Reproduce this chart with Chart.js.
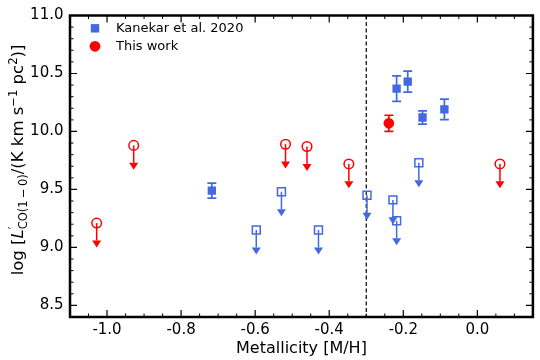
<!DOCTYPE html>
<html>
<head>
<meta charset="utf-8">
<script src="https://cdn.jsdelivr.net/npm/chart.js@4.4.1/dist/chart.umd.min.js"></script>
<style>
  html, body { margin: 0; padding: 0; background: #fff; }
  #wrap { width: 540px; height: 360px; }
</style>
</head>
<body>
<div id="wrap"><canvas id="my-chart" width="540" height="360"></canvas></div>
<script>
// Kanekar et al. 2020 detections
const kanekarX = [-0.717, -0.218, -0.188, -0.148, -0.089];
const kanekarY = [9.49, 10.37, 10.43, 10.12, 10.19];
const kanekarErr = [0.065, 0.11, 0.09, 0.057, 0.088];
// Kanekar et al. 2020 upper limits
const kanekarLimX = [-0.597, -0.529, -0.429, -0.298, -0.228, -0.218, -0.158];
const kanekarLimY = [9.15, 9.48, 9.15, 9.45, 9.41, 9.23, 9.73];
// this work
const thisX = [-0.239];
const thisY = [10.07];
const thisErr = [0.07];
const thisLimX = [-1.028, -0.928, -0.518, -0.46, -0.347, 0.061];
const thisLimY = [9.21, 9.88, 9.89, 9.87, 9.72, 9.72];
const limitLength = 0.15;
const cutoffX = -0.3;

const xTicks = [-1.0, -0.8, -0.6, -0.4, -0.2, 0.0];
const yTicks = [8.5, 9.0, 9.5, 10.0, 10.5, 11.0];
const xMinorStep = 0.05;
const yMinorStep = 0.1;

const seriesNames = ['Kanekar et al. 2020', 'This work'];

const blue = '#4169e1';
const red = '#ff0000';
const fontName = 'DejaVu Sans';

const toPoints = (xs, ys) => xs.map((x, i) => ({ x: x, y: ys[i] }));

const extrasPlugin = {
  id: 'extras',
  beforeDatasetsDraw(chart) {
    const ctx = chart.ctx;
    const xs = chart.scales.x;
    const ys = chart.scales.y;
    const area = chart.chartArea;

    // vertical dashed line
    ctx.save();
    ctx.strokeStyle = '#000';
    ctx.lineWidth = 1.2;
    ctx.setLineDash([4, 2.5]);
    const cx = xs.getPixelForValue(cutoffX);
    ctx.beginPath();
    ctx.moveTo(cx, area.top);
    ctx.lineTo(cx, area.bottom);
    ctx.stroke();
    ctx.restore();

    function errBars(xv, yv, ev, color) {
      ctx.save();
      ctx.strokeStyle = color;
      ctx.lineWidth = 1.7;
      xv.forEach((x, i) => {
        const px = xs.getPixelForValue(x);
        const top = ys.getPixelForValue(yv[i] + ev[i]);
        const bot = ys.getPixelForValue(yv[i] - ev[i]);
        ctx.beginPath();
        ctx.moveTo(px, top); ctx.lineTo(px, bot);
        ctx.moveTo(px - 4.5, top); ctx.lineTo(px + 4.5, top);
        ctx.moveTo(px - 4.5, bot); ctx.lineTo(px + 4.5, bot);
        ctx.stroke();
      });
      ctx.restore();
    }

    function limits(xv, yv, color) {
      ctx.save();
      ctx.strokeStyle = color;
      ctx.fillStyle = color;
      ctx.lineWidth = 1.5;
      xv.forEach((x, i) => {
        const px = xs.getPixelForValue(x);
        const p0 = ys.getPixelForValue(yv[i]);
        const p1 = ys.getPixelForValue(yv[i] - limitLength);
        ctx.beginPath();
        ctx.moveTo(px, p0); ctx.lineTo(px, p1);
        ctx.stroke();
        ctx.beginPath();
        ctx.moveTo(px - 4.5, p1);
        ctx.lineTo(px + 4.5, p1);
        ctx.lineTo(px, p1 + 7);
        ctx.closePath();
        ctx.fill();
      });
      ctx.restore();
    }

    errBars(kanekarX, kanekarY, kanekarErr, blue);
    limits(kanekarLimX, kanekarLimY, blue);
    errBars(thisX, thisY, thisErr, red);
    limits(thisLimX, thisLimY, red);
  },
  afterDraw(chart) {
    const ctx = chart.ctx;
    const xs = chart.scales.x;
    const ys = chart.scales.y;
    const a = chart.chartArea;

    // ticks on all four sides, pointing in
    ctx.save();
    ctx.strokeStyle = '#000';
    function xTick(v, len, w) {
      const p = xs.getPixelForValue(v);
      ctx.lineWidth = w;
      ctx.beginPath();
      ctx.moveTo(p, a.bottom); ctx.lineTo(p, a.bottom - len);
      ctx.moveTo(p, a.top); ctx.lineTo(p, a.top + len);
      ctx.stroke();
    }
    function yTick(v, len, w) {
      const p = ys.getPixelForValue(v);
      ctx.lineWidth = w;
      ctx.beginPath();
      ctx.moveTo(a.left, p); ctx.lineTo(a.left + len, p);
      ctx.moveTo(a.right, p); ctx.lineTo(a.right - len, p);
      ctx.stroke();
    }
    for (let v = -1.1; v <= 0.15 + 1e-9; v += xMinorStep) {
      const r = Math.round(v * 100) / 100;
      if (!xTicks.some(t => Math.abs(t - r) < 1e-6)) xTick(r, 3.5, 1);
    }
    for (let v = 8.4; v <= 11.0 + 1e-9; v += yMinorStep) {
      const r = Math.round(v * 10) / 10;
      if (!yTicks.some(t => Math.abs(t - r) < 1e-6)) yTick(r, 3.5, 1);
    }
    xTicks.forEach(v => xTick(v, 7, 1.2));
    yTicks.forEach(v => yTick(v, 7, 1.2));

    // frame
    ctx.lineWidth = 2.5;
    ctx.strokeRect(a.left, a.top, a.right - a.left, a.bottom - a.top);
    ctx.restore();

    // legend
    ctx.save();
    ctx.font = '13px ' + fontName;
    ctx.textBaseline = 'middle';
    ctx.fillStyle = blue;
    ctx.fillRect(95 - 4.2, 28.3 - 4.2, 8.4, 8.4);
    ctx.fillStyle = red;
    ctx.beginPath();
    ctx.arc(95, 46.3, 5.4, 0, Math.PI * 2);
    ctx.fill();
    ctx.fillStyle = '#000';
    ctx.fillText(seriesNames[0], 116, 28.5);
    ctx.fillText(seriesNames[1], 116, 46.5);
    ctx.restore();

    // x axis title
    ctx.save();
    ctx.font = '16px ' + fontName;
    ctx.fillStyle = '#000';
    ctx.textAlign = 'center';
    ctx.textBaseline = 'alphabetic';
    ctx.fillText('Metallicity [M/H]', (a.left + a.right) / 2, 353);
    ctx.restore();

    // y axis title with sub/superscripts
    const fs = 16.5;
    const small = fs * 0.7;
    const pieces = [
      { t: 'log [', size: fs, dy: 0 },
      { t: 'L', size: fs, dy: 0, italic: true },
      { t: '\u2032', size: small, dy: -6, keep: true },
      { t: 'CO(1\u2009\u2212\u20090)', size: small, dy: 4 },
      { t: '/(K km s', size: fs, dy: 0 },
      { t: '\u22121', size: small, dy: -6.5 },
      { t: ' pc', size: fs, dy: 0 },
      { t: '2', size: small, dy: -6.5 },
      { t: ')]', size: fs, dy: 0 }
    ];
    ctx.save();
    ctx.fillStyle = '#000';
    ctx.textBaseline = 'alphabetic';
    const setFont = p => { ctx.font = (p.italic ? 'italic ' : '') + p.size + 'px ' + fontName; };
    let total = 0;
    pieces.forEach(p => { setFont(p); p.w = ctx.measureText(p.t).width; if (!p.keep) total += p.w; });
    ctx.translate(23, 160);
    ctx.rotate(-Math.PI / 2);
    let cur = -total / 2;
    pieces.forEach(p => {
      setFont(p);
      ctx.fillText(p.t, cur, p.dy);
      if (!p.keep) cur += p.w;
    });
    ctx.restore();
  }
};

const ctx = document.getElementById('my-chart').getContext('2d');
const chart = new Chart(ctx, {
  type: 'scatter',
  data: {
    datasets: [
      {
        label: seriesNames[0],
        data: toPoints(kanekarX, kanekarY),
        pointStyle: 'rect',
        pointRadius: 5.9,
        backgroundColor: blue,
        borderColor: blue,
        borderWidth: 0
      },
      {
        label: seriesNames[0] + ' limits',
        data: toPoints(kanekarLimX, kanekarLimY),
        pointStyle: 'rect',
        pointRadius: 5.6,
        backgroundColor: 'rgba(0,0,0,0)',
        borderColor: blue,
        borderWidth: 1.5
      },
      {
        label: seriesNames[1],
        data: toPoints(thisX, thisY),
        pointStyle: 'circle',
        pointRadius: 5.3,
        backgroundColor: red,
        borderColor: red,
        borderWidth: 0
      },
      {
        label: seriesNames[1] + ' limits',
        data: toPoints(thisLimX, thisLimY),
        pointStyle: 'circle',
        pointRadius: 4.8,
        backgroundColor: 'rgba(0,0,0,0)',
        borderColor: red,
        borderWidth: 1.5
      }
    ]
  },
  options: {
    responsive: false,
    animation: false,
    devicePixelRatio: 1,
    layout: { padding: { top: 12, right: 5, left: 0, bottom: 0 } },
    plugins: { legend: { display: false }, tooltip: { enabled: false } },
    scales: {
      x: {
        type: 'linear',
        min: -1.1,
        max: 0.15,
        grid: { display: false, drawTicks: false },
        border: { display: false },
        afterBuildTicks: s => { s.ticks = xTicks.map(v => ({ value: v })); },
        afterFit: s => { s.height = 43; },
        ticks: {
          padding: 4,
          maxRotation: 0,
          autoSkip: false,
          color: '#000',
          font: { family: fontName, size: 15 },
          callback: v => Number(v).toFixed(1)
        }
      },
      y: {
        type: 'linear',
        min: 8.4,
        max: 11.0,
        grid: { display: false, drawTicks: false },
        border: { display: false },
        afterBuildTicks: s => { s.ticks = yTicks.map(v => ({ value: v })); },
        afterFit: s => { s.width = 70; },
        ticks: {
          padding: 6.5,
          autoSkip: false,
          color: '#000',
          font: { family: fontName, size: 15 },
          callback: v => Number(v).toFixed(1)
        }
      }
    }
  },
  plugins: [extrasPlugin]
});
</script>
</body>
</html>
